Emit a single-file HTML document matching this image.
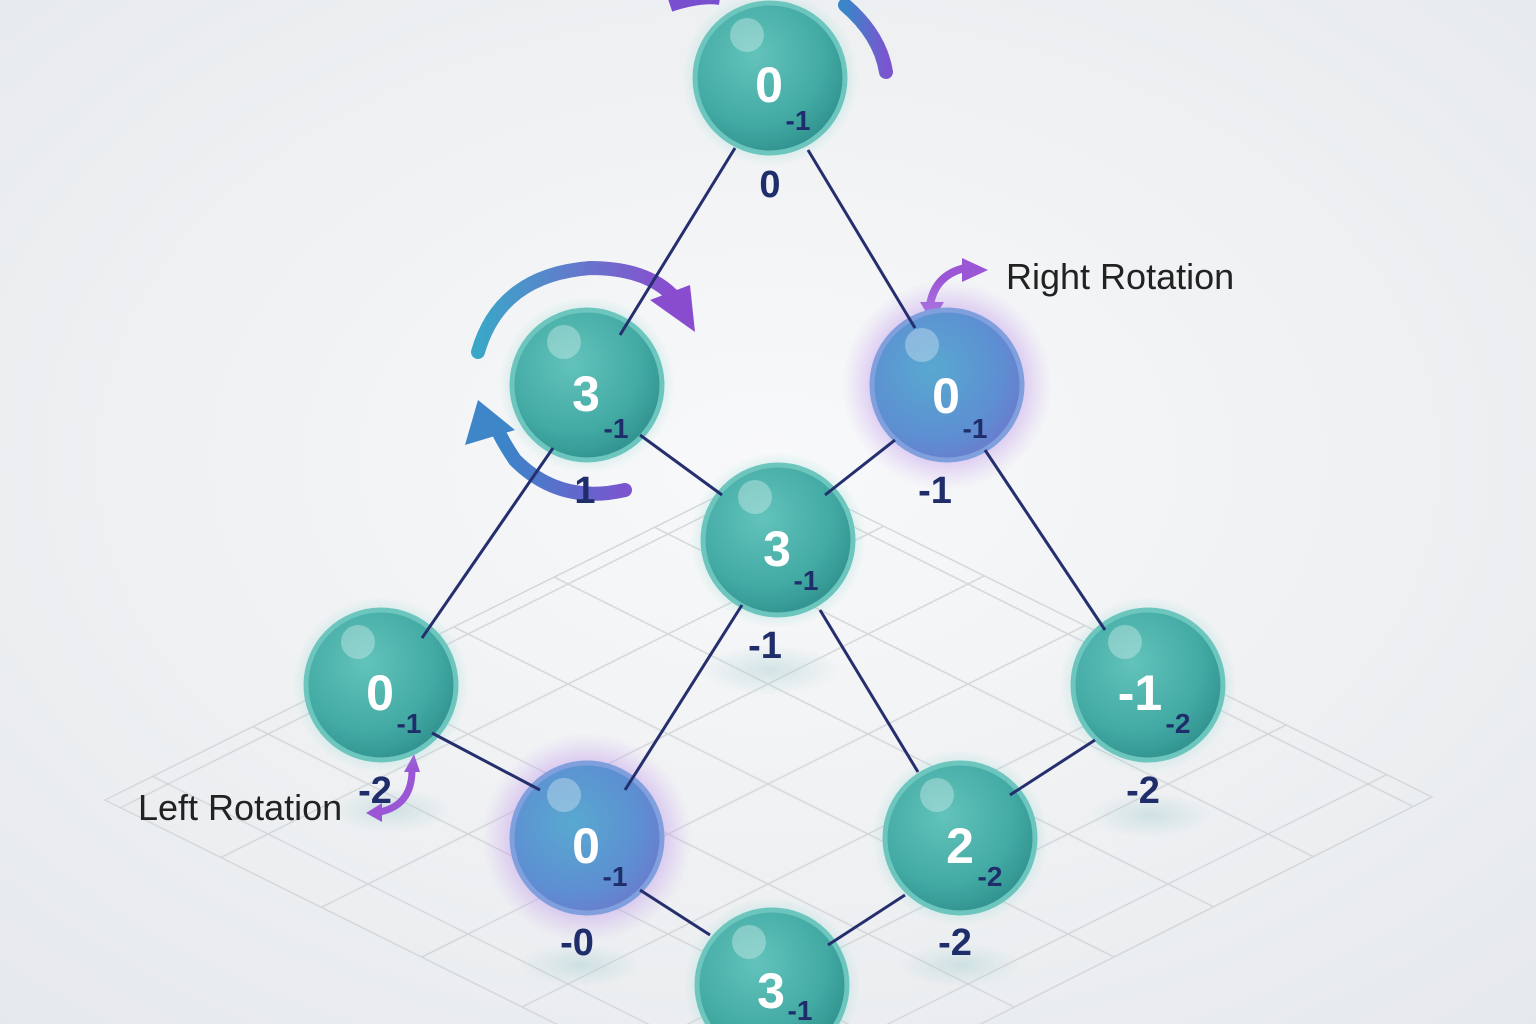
<!DOCTYPE html>
<html><head><meta charset="utf-8"><style>
html,body{margin:0;padding:0;width:1536px;height:1024px;overflow:hidden;background:#eef0f2}
svg{display:block}
text{font-family:"Liberation Sans",sans-serif;font-weight:bold}
</style></head><body>
<svg width="1536" height="1024" viewBox="0 0 1536 1024">
<defs>
<radialGradient id="bg" cx="50%" cy="45%" r="75%"><stop offset="0" stop-color="#f8f9fa"/><stop offset="1" stop-color="#e6e9ec"/></radialGradient>
<radialGradient id="teal" cx="40%" cy="35%" r="65%"><stop offset="0" stop-color="#62c3bb"/><stop offset="0.7" stop-color="#43aaa4"/><stop offset="1" stop-color="#339591"/></radialGradient>
<radialGradient id="blue" cx="40%" cy="40%" r="65%"><stop offset="0" stop-color="#58a9d0"/><stop offset="0.7" stop-color="#5d8fd2"/><stop offset="1" stop-color="#6a7ccd"/></radialGradient>
<radialGradient id="glowT" r="50%"><stop offset="0.7" stop-color="#8fd6d0" stop-opacity="0.5"/><stop offset="1" stop-color="#8fd6d0" stop-opacity="0"/></radialGradient>
<radialGradient id="glowP" r="50%"><stop offset="0.6" stop-color="#b58ae6" stop-opacity="0.6"/><stop offset="1" stop-color="#c9a6f0" stop-opacity="0"/></radialGradient>
<radialGradient id="shad" r="50%"><stop offset="0" stop-color="#a9cfd0" stop-opacity="0.45"/><stop offset="1" stop-color="#a9cfd0" stop-opacity="0"/></radialGradient>
<linearGradient id="arc1" x1="0" x2="1"><stop offset="0" stop-color="#3aa7c8"/><stop offset="1" stop-color="#8a4ccf"/></linearGradient>
<linearGradient id="arc2" x1="0" x2="1"><stop offset="0" stop-color="#3a86c8"/><stop offset="1" stop-color="#7a55cf"/></linearGradient>
<clipPath id="dia"><polygon points="105,800 770,470 1432,797 770,1130"/></clipPath>
</defs>
<rect width="1536" height="1024" fill="url(#bg)"/>
<g clip-path="url(#dia)" stroke="#d5d8db" stroke-width="1.5" fill="none">
<g id="g1">
<line x1="-200" y1="600" x2="1800" y2="1600"/><line x1="-200" y1="500" x2="1800" y2="1500"/><line x1="-200" y1="400" x2="1800" y2="1400"/><line x1="-200" y1="300" x2="1800" y2="1300"/><line x1="-200" y1="200" x2="1800" y2="1200"/><line x1="-200" y1="100" x2="1800" y2="1100"/><line x1="-200" y1="0" x2="1800" y2="1000"/><line x1="-200" y1="-100" x2="1800" y2="900"/><line x1="-200" y1="-200" x2="1800" y2="800"/><line x1="-200" y1="-300" x2="1800" y2="700"/><line x1="-200" y1="-400" x2="1800" y2="600"/><line x1="-200" y1="-500" x2="1800" y2="500"/><line x1="-200" y1="-600" x2="1800" y2="400"/><line x1="-200" y1="-700" x2="1800" y2="300"/>
</g>
<g transform="translate(1536,0) scale(-1,1)"><use href="#g1"/></g>
</g>
<polygon points="105,800 770,470 1432,797 770,1130" fill="none" stroke="#d5d8db" stroke-width="1.5"/>
<g fill="url(#shad)">
<ellipse cx="770" cy="670" rx="70" ry="25"/><ellipse cx="390" cy="810" rx="60" ry="22"/><ellipse cx="1150" cy="815" rx="60" ry="22"/><ellipse cx="580" cy="965" rx="60" ry="22"/><ellipse cx="960" cy="965" rx="60" ry="22"/>
</g>
<path d="M670 5 Q700 -5 720 -2" stroke="#7a4fcf" stroke-width="14" fill="none"/>
<path d="M845 5 Q880 35 886 72" stroke="url(#arc2)" stroke-width="14" fill="none" stroke-linecap="round"/>
<path d="M478 352 Q500 275 590 268 Q645 268 672 295" stroke="url(#arc1)" stroke-width="14" fill="none" stroke-linecap="round"/>
<polygon points="650,300 690,285 695,332" fill="#8a4ccf"/>
<path d="M625 490 Q560 505 515 460 Q505 445 500 435" stroke="url(#arc2)" stroke-width="14" fill="none" stroke-linecap="round"/>
<polygon points="465,445 478,400 515,430" fill="#3f86c9"/>
<path d="M930 305 Q935 275 965 268" stroke="#9b56d6" stroke-width="8" fill="none"/>
<polygon points="962,258 988,270 962,282" fill="#9b56d6"/>
<polygon points="920,302 944,302 932,322" fill="#9b56d6"/>
<path d="M412 770 Q412 805 380 812" stroke="#9b56d6" stroke-width="7" fill="none"/>
<polygon points="404,772 420,772 414,754" fill="#9b56d6"/>
<polygon points="382,803 382,822 366,813" fill="#9b56d6"/>
<circle cx="770" cy="78" r="88" fill="url(#glowT)"/><circle cx="587" cy="385" r="88" fill="url(#glowT)"/><circle cx="778" cy="540" r="88" fill="url(#glowT)"/><circle cx="381" cy="685" r="88" fill="url(#glowT)"/><circle cx="1148" cy="685" r="88" fill="url(#glowT)"/><circle cx="960" cy="838" r="88" fill="url(#glowT)"/><circle cx="772" cy="985" r="88" fill="url(#glowT)"/>
<circle cx="947" cy="385" r="105" fill="url(#glowP)"/><circle cx="587" cy="838" r="105" fill="url(#glowP)"/>
<g stroke-width="5">
<circle cx="770" cy="78" r="75" fill="url(#teal)" stroke="#6dc6be"/>
<circle cx="587" cy="385" r="75" fill="url(#teal)" stroke="#6dc6be"/>
<circle cx="947" cy="385" r="75" fill="url(#blue)" stroke="#7f9fdd"/>
<circle cx="778" cy="540" r="75" fill="url(#teal)" stroke="#6dc6be"/>
<circle cx="381" cy="685" r="75" fill="url(#teal)" stroke="#6dc6be"/>
<circle cx="1148" cy="685" r="75" fill="url(#teal)" stroke="#6dc6be"/>
<circle cx="587" cy="838" r="75" fill="url(#blue)" stroke="#7f9fdd"/>
<circle cx="960" cy="838" r="75" fill="url(#teal)" stroke="#6dc6be"/>
<circle cx="772" cy="985" r="75" fill="url(#teal)" stroke="#6dc6be"/>
</g>
<g fill="#ffffff" fill-opacity="0.3">
<circle cx="747" cy="35" r="17"/><circle cx="564" cy="342" r="17"/><circle cx="922" cy="345" r="17"/><circle cx="755" cy="497" r="17"/><circle cx="358" cy="642" r="17"/><circle cx="1125" cy="642" r="17"/><circle cx="564" cy="795" r="17"/><circle cx="937" cy="795" r="17"/><circle cx="749" cy="942" r="17"/>
</g>
<g stroke="#252f6e" stroke-width="3">
<line x1="735" y1="148" x2="620" y2="335"/><line x1="808" y1="150" x2="915" y2="328"/>
<line x1="640" y1="435" x2="722" y2="495"/><line x1="895" y1="440" x2="825" y2="495"/>
<line x1="553" y1="448" x2="422" y2="638"/><line x1="985" y1="450" x2="1105" y2="630"/>
<line x1="742" y1="605" x2="625" y2="790"/><line x1="820" y1="610" x2="918" y2="772"/>
<line x1="432" y1="733" x2="540" y2="790"/><line x1="1095" y1="740" x2="1010" y2="795"/>
<line x1="640" y1="890" x2="710" y2="935"/><line x1="905" y1="895" x2="828" y2="945"/>
</g>
<g fill="#fff" font-size="50" text-anchor="middle">
<text x="769" y="102">0</text><text x="586" y="411">3</text><text x="946" y="413">0</text><text x="777" y="566">3</text><text x="380" y="710">0</text><text x="1140" y="710">-1</text><text x="586" y="863">0</text><text x="960" y="863">2</text><text x="771" y="1008">3</text>
</g>
<g fill="#1f2e6b" font-size="28" text-anchor="middle">
<text x="798" y="130">-1</text><text x="616" y="438">-1</text><text x="975" y="438">-1</text><text x="806" y="590">-1</text><text x="409" y="733">-1</text><text x="1178" y="733">-2</text><text x="615" y="886">-1</text><text x="990" y="886">-2</text><text x="800" y="1020">-1</text>
</g>
<g fill="#1f2e6b" font-size="38" text-anchor="middle">
<text x="770" y="197">0</text><text x="585" y="503">1</text><text x="935" y="503">-1</text><text x="765" y="658">-1</text><text x="375" y="803">-2</text><text x="1143" y="803">-2</text><text x="577" y="955">-0</text><text x="955" y="955">-2</text>
</g>
<text x="1006" y="289" font-size="36" fill="#222" style="font-weight:normal">Right Rotation</text>
<text x="138" y="820" font-size="36" fill="#222" style="font-weight:normal">Left Rotation</text>
</svg>
</body></html>
